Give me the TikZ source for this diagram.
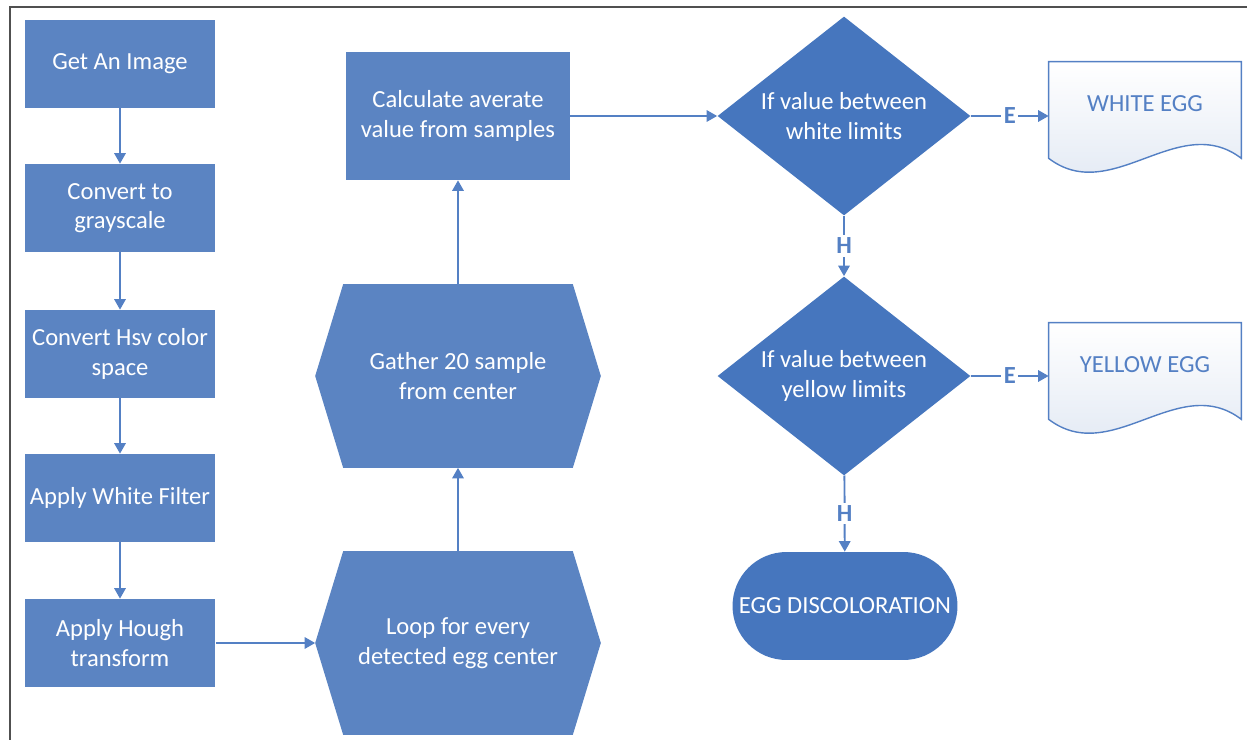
\documentclass[tikz,border=0pt]{standalone}
\usepackage{fontspec}
\setmainfont{Carlito}
\usetikzlibrary{arrows.meta}
\usetikzlibrary{shapes.geometric}
\usetikzlibrary{backgrounds}
\definecolor{boxblue}{RGB}{91,132,194}
\definecolor{decblue}{RGB}{70,118,190}
\definecolor{lineblue}{RGB}{84,128,196}
\definecolor{docfill}{RGB}{222,230,242}
\definecolor{framegray}{RGB}{80,80,80}

\begin{document}
\begin{tikzpicture}[x=0.02cm,y=-0.02cm,
    font=\fontsize{14}{16.8}\selectfont,
    procbox/.style={fill=boxblue,text=white,align=center,
      minimum width=3.82cm,minimum height=1.76cm,inner sep=2pt},
    hexbox/.style={text=white,align=center,
      minimum width=5.7cm,minimum height=3.66cm,inner sep=0pt},
    decision/.style={diamond,aspect=1.27,fill=decblue,text=white,align=center,
      minimum width=5.06cm,minimum height=3.98cm,inner sep=0pt},
    docbox/.style={text=lineblue,minimum width=3.84cm,minimum height=1.68cm,inner sep=0pt},
    term/.style={fill=decblue,text=white,rounded corners=1.08cm,
      minimum width=4.5cm,minimum height=2.16cm},
    flow/.style={draw=lineblue,line width=1.1pt,-{Triangle[length=6pt,width=6.5pt]}},
    tag/.style={fill=white,text=lineblue,inner sep=1.5pt,
      font=\fontsize{14}{16}\selectfont\bfseries}]
        \useasboundingbox (0,0) rectangle (1247,740);
        \def\cut{0.56cm}

        %------------------
        % frame
        %------------------
        \draw[framegray,line width=1.2pt] (10,740)--(10,7)--(1247,7);

        %------------------
        % left column
        %------------------
        \node[procbox] (img)   at (120,64)  {Get An Image};
        \node[procbox] (gray)  at (120,208) {Convert to\\grayscale};
        \node[procbox] (hsv)   at (120,354) {Convert Hsv color\\space};
        \node[procbox] (filt)  at (120,498) {Apply White Filter};
        \node[procbox] (hough) at (120,643) {Apply Hough\\transform};

        %------------------
        % middle column
        %------------------
        \node[hexbox] (loop)   at (458,643) {Loop for every\\detected egg center};
        \node[hexbox] (gather) at (458,376) {Gather 20 sample\\from center};
        \node[procbox,minimum width=4.48cm,minimum height=2.56cm] (calc) at (458,116)
          {Calculate averate\\value from samples};

        % hexagons
        \begin{scope}[on background layer]
          \fill[boxblue] (loop.west)--([xshift=\cut]loop.north west)--([xshift=-\cut]loop.north east)
            --(loop.east)--([xshift=-\cut]loop.south east)--([xshift=\cut]loop.south west)--cycle;
          \fill[boxblue] (gather.west)--([xshift=\cut]gather.north west)--([xshift=-\cut]gather.north east)
            --(gather.east)--([xshift=-\cut]gather.south east)--([xshift=\cut]gather.south west)--cycle;
        \end{scope}

        %------------------
        % decisions
        %------------------
        \node[decision] (dwhite)  at (844,116) {If value between\\white limits};
        \node[decision] (dyellow) at (844,376) {If value between\\yellow limits};
        \node[term] (disc) at (845,606) {EGG DISCOLORATION};

        %------------------
        % documents
        %------------------
        \node[docbox] (white)  at (1145,104) {WHITE EGG};
        \node[docbox] (yellow) at (1145,365) {YELLOW EGG};

        \begin{scope}[on background layer]
          \path[draw=lineblue,line width=0.8pt,top color=white,bottom color=docfill]
            (white.north west)--(white.north east)--([yshift=-0.24cm]white.south east)
            .. controls +(-63,-48) and +(63,48) .. ([yshift=-0.24cm]white.south west)--cycle;
          \path[draw=lineblue,line width=0.8pt,top color=white,bottom color=docfill]
            (yellow.north west)--(yellow.north east)--([yshift=-0.24cm]yellow.south east)
            .. controls +(-63,-48) and +(63,48) .. ([yshift=-0.24cm]yellow.south west)--cycle;
        \end{scope}

        %------------------
        % arrows
        %------------------
        \draw[flow] (img)--(gray);
        \draw[flow] (gray)--(hsv);
        \draw[flow] (hsv)--(filt);
        \draw[flow] (filt)--(hough);
        \draw[flow] (hough)--(loop);
        \draw[flow] (loop)--(gather);
        \draw[flow] (gather)--(calc);
        \draw[flow] (calc)--(dwhite);
        \draw[flow] (dwhite)--node[tag]{H}(dyellow);
        \draw[flow] (dyellow)--node[tag]{H}(disc);
        \draw[flow] (dwhite.east)--node[tag]{E}(dwhite.east -| white.west);
        \draw[flow] (dyellow.east)--node[tag]{E}(dyellow.east -| yellow.west);
      \end{tikzpicture}
\end{document}
